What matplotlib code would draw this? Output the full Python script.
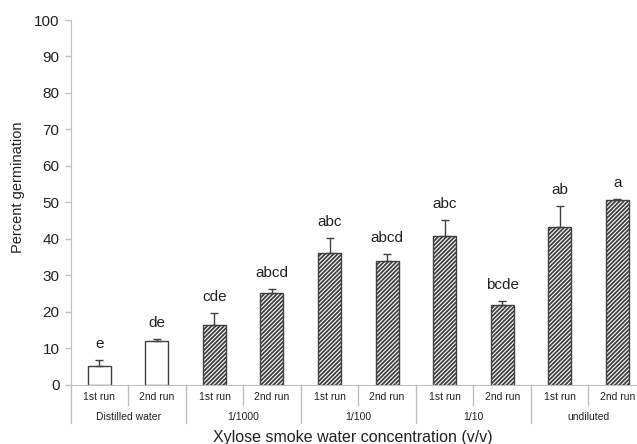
import matplotlib.pyplot as plt
import matplotlib.transforms as mtransforms

plt.rcParams['font.family'] = ['Liberation Sans', 'DejaVu Sans']
plt.rcParams['hatch.linewidth'] = 1.3

groups = ["Distilled water", "1/1000", "1/100", "1/10", "undiluted"]
runs = ["1st run", "2nd run"] * 5
means = [5.1, 12.0, 16.2, 25.0, 36.2, 33.9, 40.8, 21.8, 43.1, 50.5]
errors = [1.5, 0.4, 3.3, 1.2, 3.9, 1.8, 4.3, 1.1, 5.9, 0.5]
letters = ["e", "de", "cde", "abcd", "abc", "abcd", "abc", "bcde", "ab", "a"]
hatched = [False, False, True, True, True, True, True, True, True, True]

axis_grey = '#bfbfbf'

fig = plt.figure(figsize=(6.37, 4.44), dpi=100)
ax = fig.add_axes([70.6 / 637, 59.5 / 444, 575.4 / 637, 364.5 / 444])

x = list(range(len(means)))
for i in x:
    ax.bar(i, means[i], width=0.4, color='white', edgecolor='#404040',
           linewidth=1.0, hatch='////////' if hatched[i] else None, zorder=2)
ax.errorbar(x, means, yerr=[[0] * len(errors), errors], fmt='none',
            ecolor='#404040', elinewidth=1.0, capsize=3, capthick=1.0, zorder=3)

for i in x:
    ax.annotate(letters[i], (i, means[i] + errors[i]), xytext=(0, 12),
                textcoords='offset pixels', ha='center', va='baseline',
                fontsize=11, color='#222222')

ax.set_xlim(-0.5, len(means) - 0.5)
ax.set_ylim(0, 100)
ax.set_yticks(range(0, 101, 10))
ax.tick_params(axis='y', length=4, width=1, color=axis_grey, pad=4,
               labelsize=11, labelcolor='#222222')
ax.set_xticks([])
for s in ['top', 'right']:
    ax.spines[s].set_visible(False)
ax.spines['left'].set_color(axis_grey)
ax.spines['bottom'].set_color(axis_grey)

# two-level category axis drawn below the plot
trans = mtransforms.blended_transform_factory(ax.transData, ax.transAxes)
for i in range(len(means) + 1):
    bottom = -0.105 if i % 2 == 0 else -0.056
    ax.plot([i - 0.5, i - 0.5], [0, bottom], color=axis_grey, lw=1,
            transform=trans, clip_on=False)
for i in x:
    ax.text(i, -0.034, runs[i], transform=trans, ha='center', va='center',
            fontsize=7.5, color='#222222')
for g, name in enumerate(groups):
    ax.text(2 * g + 0.5, -0.089, name, transform=trans, ha='center',
            va='center', fontsize=7.5, color='#222222')

fig.text(353 / 637, 1 - 437 / 444, "Xylose smoke water concentration (v/v)",
         ha='center', va='center', fontsize=11.5, color='#222222')
fig.text(18 / 637, 1 - 187 / 444, "Percent germination", rotation=90,
         ha='center', va='center', fontsize=10.5, color='#222222')

fig.savefig('out.png', dpi=100)
plt.close(fig)
